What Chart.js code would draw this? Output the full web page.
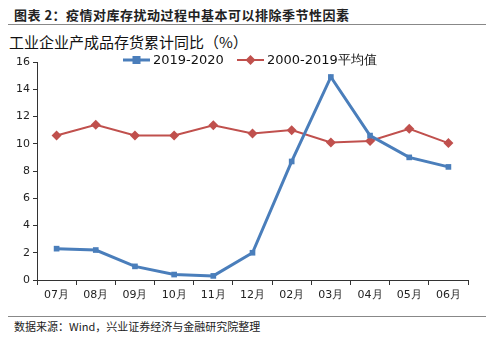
<!DOCTYPE html>
<html>
<head>
<meta charset="utf-8">
<script src="https://cdn.jsdelivr.net/npm/chart.js@4/dist/chart.umd.min.js"></script>
<style>
  body { margin: 0; width: 500px; height: 340px; background: #fff; position: relative; overflow: hidden;
         font-family: "Noto Sans CJK SC", "DejaVu Sans", sans-serif; }
  .title { position: absolute; left: 14px; top: 5px; font-size: 13px; font-weight: bold; color: #222; letter-spacing: 0.5px; }
  .rule { position: absolute; left: 8px; width: 478px; height: 1px; background: #888; }
  .sub { position: absolute; left: 9px; top: 31px; font-size: 15px; color: #111; }
  .src { position: absolute; left: 14px; top: 318px; font-size: 11px; color: #222; }
  #box { position: absolute; left: 0; top: 50px; width: 500px; height: 260px; }
</style>
</head>
<body>
<div class="title">图表 2：疫情对库存扰动过程中基本可以排除季节性因素</div>
<div class="rule" style="top:24px"></div>
<div class="sub">工业企业产成品存货累计同比（%）</div>
<div id="box"><canvas id="c"></canvas></div>
<div class="rule" style="top:316px"></div>
<div class="src">数据来源：Wind，兴业证券经济与金融研究院整理</div>
<script>
// 月份与两条序列
const months = ["07月", "08月", "09月", "10月", "11月", "12月", "02月", "03月", "04月", "05月", "06月"];
const recent = [2.3, 2.2, 1.0, 0.4, 0.3, 2.0, 8.7, 14.9, 10.6, 9.0, 8.3];
const avg = [10.6, 11.4, 10.6, 10.6, 11.35, 10.75, 11.0, 10.1, 10.2, 11.1, 10.05];
const seriesNames = ["2019-2020", "2000-2019平均值"];

const blue = "#4a7ebb";
const red = "#c0504d";

// 顶部图例：线段 + 标记
const legendPlugin = {
  id: "topLegend",
  afterDraw(chart) {
    const ctx = chart.ctx;
    const items = [{ x: 123, ds: 0 }, { x: 237, ds: 1 }];
    ctx.save();
    ctx.font = "13px 'DejaVu Sans', sans-serif";
    ctx.textBaseline = "middle";
    items.forEach(it => {
      const ds = chart.data.datasets[it.ds];
      const y = 10;
      ctx.strokeStyle = ds.borderColor;
      ctx.lineWidth = ds.borderWidth;
      ctx.beginPath();
      ctx.moveTo(it.x, y);
      ctx.lineTo(it.x + 27, y);
      ctx.stroke();
      ctx.fillStyle = ds.borderColor;
      const cx = it.x + 13.5;
      if (ds.pointStyle === "rect") {
        ctx.fillRect(cx - 4, y - 4, 8, 8);
      } else {
        ctx.beginPath();
        ctx.moveTo(cx, y - 5);
        ctx.lineTo(cx + 5, y);
        ctx.lineTo(cx, y + 5);
        ctx.lineTo(cx - 5, y);
        ctx.closePath();
        ctx.fill();
      }
      ctx.fillStyle = "#111";
      ctx.fillText(ds.label, it.x + 30, y + 1);
    });
    ctx.restore();
  }
};

new Chart(document.getElementById("c"), {
  type: "line",
  data: {
    labels: months,
    datasets: [
      {
        label: seriesNames[0],
        data: recent,
        borderColor: blue,
        backgroundColor: blue,
        borderWidth: 3,
        pointStyle: "rect",
        pointRadius: 4,
        pointBorderWidth: 0,
        tension: 0,
      },
      {
        label: seriesNames[1],
        data: avg,
        borderColor: red,
        backgroundColor: red,
        borderWidth: 2,
        pointStyle: "rectRot",
        pointRadius: 5,
        pointBorderWidth: 0,
        tension: 0,
      },
    ],
  },
  options: {
    responsive: true,
    maintainAspectRatio: false,
    animation: false,
    layout: { padding: { top: 12, right: 32, left: 0, bottom: 0 } },
    plugins: { legend: { display: false }, tooltip: { enabled: false } },
    scales: {
      x: {
        offset: true,
        grid: { offset: true, drawOnChartArea: false, tickLength: 5, color: "#333", tickColor: "#333" },
        border: { color: "#333", width: 1 },
        ticks: { color: "#222", font: { size: 11, family: "'DejaVu Sans', sans-serif" }, padding: 4, maxRotation: 0 },
        afterFit(s) { s.height = 30; },
      },
      y: {
        min: 0,
        max: 16,
        ticks: { stepSize: 2, color: "#222", font: { size: 11, family: "'DejaVu Sans', sans-serif" }, padding: 3 },
        grid: { drawOnChartArea: false, tickLength: 4, color: "#333", tickColor: "#333" },
        border: { color: "#333", width: 1 },
        afterFit(s) { s.width = 37; },
      },
    },
  },
  plugins: [legendPlugin],
});
</script>
</body>
</html>
